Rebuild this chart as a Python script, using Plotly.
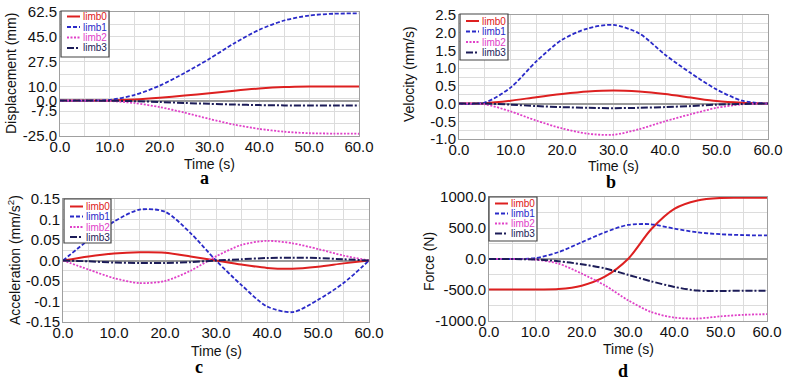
import plotly.graph_objects as go

W, H = 788, 383

# ---------------- data ----------------
time_s = [0, 5, 10, 15, 20, 25, 30, 35, 40, 45, 50, 55, 60]
series_names = ["limb0", "limb1", "limb2", "limb3"]

disp_limb0 = [0, 0, 0.1, 0.8, 2.0, 3.5, 5.2, 7.0, 8.5, 9.5, 9.9, 10.0, 10.0]
disp_limb1 = [0, 0, 0.5, 4.0, 10.5, 19.5, 29.5, 40.5, 50.0, 56.5, 60.0, 61.3, 61.5]
disp_limb2 = [0, 0, -0.3, -1.8, -4.6, -8.5, -13.0, -17.0, -20.0, -22.0, -23.0, -23.3, -23.4]
disp_limb3 = [0, 0, -0.1, -0.4, -1.0, -1.7, -2.3, -2.8, -3.2, -3.4, -3.5, -3.5, -3.5]

vel_limb0 = [0, 0.01, 0.08, 0.18, 0.27, 0.34, 0.37, 0.34, 0.27, 0.17, 0.07, 0.02, 0]
vel_limb1 = [0, 0.03, 0.45, 1.19, 1.80, 2.12, 2.22, 1.98, 1.38, 0.86, 0.40, 0.08, 0]
vel_limb2 = [0, -0.02, -0.22, -0.48, -0.70, -0.85, -0.88, -0.72, -0.50, -0.30, -0.12, -0.02, 0]
vel_limb3 = [0, 0, -0.03, -0.07, -0.10, -0.12, -0.13, -0.12, -0.10, -0.07, -0.03, -0.01, 0]

acc_limb0 = [0, 0.010, 0.017, 0.020, 0.019, 0.010, 0, -0.010, -0.018, -0.020, -0.015, -0.007, 0]
acc_limb1 = [0, 0.050, 0.095, 0.124, 0.119, 0.067, 0, -0.060, -0.112, -0.126, -0.096, -0.055, 0]
acc_limb2 = [0, -0.022, -0.043, -0.055, -0.050, -0.025, 0.010, 0.038, 0.048, 0.042, 0.028, 0.012, 0]
acc_limb3 = [0, -0.002, -0.005, -0.006, -0.006, -0.004, 0, 0.003, 0.006, 0.007, 0.006, 0.003, 0]

force_limb0 = [-490, -490, -490, -485, -430, -285, 0, 480, 810, 945, 985, 988, 988]
force_limb1 = [0, 0, 15, 110, 270, 430, 550, 560, 490, 430, 400, 385, 380]
force_limb2 = [0, 0, -10, -75, -235, -425, -665, -855, -945, -960, -925, -900, -890]
force_limb3 = [0, 0, -8, -35, -85, -150, -255, -360, -450, -510, -515, -512, -510]

x_tickvals = [0, 10, 20, 30, 40, 50, 60]
x_ticktext = ["0.0", "10.0", "20.0", "30.0", "40.0", "50.0", "60.0"]

a_tickvals = [-25, -7.5, 0, 10, 27.5, 45, 62.5]
a_ticktext = ["-25.0", "-7.5", "0.0", "10.0", "27.5", "45.0", "62.5"]
b_tickvals = [-1.0, -0.5, 0, 0.5, 1.0, 1.5, 2.0, 2.5]
b_ticktext = ["-1.0", "-0.5", "0.0", "0.5", "1.0", "1.5", "2.0", "2.5"]
c_tickvals = [-0.15, -0.1, -0.05, 0, 0.05, 0.1, 0.15]
c_ticktext = ["-0.15", "-0.1", "-0.05", "0.0", "0.05", "0.1", "0.15"]
d_tickvals = [-1000, -500, 0, 500, 1000]
d_ticktext = ["-1000.0", "-500.0", "0.0", "500.0", "1000.0"]

# ---------------- style ----------------
colors = ["#dd2020", "#2a2ac8", "#e040c8", "#1c1c58"]
dashes = ["solid", "4px,2px", "2px,1.5px", "7px,2px,2px,2px"]
widths = [2, 1.8, 1.8, 2]
FONT = "Liberation Sans"


def px(x):
    return x / W


def py(y):
    return 1 - y / H


# panel pixel boxes: left, top, right, bottom
panels = [
    dict(box=(60, 12, 359, 136), data=[disp_limb0, disp_limb1, disp_limb2, disp_limb3],
         yr=[-25, 62.5], tv=a_tickvals, tt=a_ticktext,
         minor=[-16.25, 1.25, 18.75, 36.25, 53.75],
         ytitle="Displacement (mm)", ytx=11, yty=74, xty=164,
         label="a", lab=(204.5, 178),
         leg=(61, 11, 109, 57), rows=[16.5, 27, 37.5, 48]),
    dict(box=(459, 15, 768, 139), data=[vel_limb0, vel_limb1, vel_limb2, vel_limb3],
         yr=[-1.0, 2.5], tv=b_tickvals, tt=b_ticktext,
         minor=[-0.75, -0.25, 0.25, 0.75, 1.25, 1.75, 2.25],
         ytitle="Velocity (mm/s)", ytx=409, yty=74, xty=165.5,
         label="b", lab=(611, 182),
         leg=(460, 14, 508, 60), rows=[21, 31.5, 42, 52.5]),
    dict(box=(63, 199, 369, 322), data=[acc_limb0, acc_limb1, acc_limb2, acc_limb3],
         yr=[-0.15, 0.15], tv=c_tickvals, tt=c_ticktext,
         minor=[-0.125, -0.075, -0.025, 0.025, 0.075, 0.125],
         ytitle="Acceleration (mm/s<sup>2</sup>)", ytx=13.5, yty=260.5, xty=351,
         label="c", lab=(199, 367),
         leg=(64, 199, 111, 243), rows=[206.5, 216.5, 227, 237]),
    dict(box=(489, 197, 767, 321), data=[force_limb0, force_limb1, force_limb2, force_limb3],
         yr=[-1000, 1000], tv=d_tickvals, tt=d_ticktext,
         minor=[-750, -250, 250, 750],
         ytitle="Force (N)", ytx=429, yty=262, xty=349,
         label="d", lab=(623, 371),
         leg=(489, 197, 537, 241), rows=[203.5, 213.5, 223.5, 233.5]),
]

fig = go.Figure()
shapes = []
annotations = []

for i, p in enumerate(panels):
    n = "" if i == 0 else str(i + 1)
    l, t, r, b = p["box"]
    for k in range(4):
        fig.add_trace(go.Scatter(
            x=time_s, y=p["data"][k], mode="lines", name=series_names[k],
            line=dict(color=colors[k], dash=dashes[k], width=widths[k],
                      shape="spline", smoothing=0.8),
            xaxis="x" + n, yaxis="y" + n, showlegend=False))

    xa = dict(domain=[px(l), px(r)], anchor="y" + n, range=[0, 60],
              automargin=False,
              tickvals=x_tickvals, ticktext=x_ticktext,
              showgrid=True, gridcolor="#dcdcdc", gridwidth=1,
              minor=dict(tickvals=[5, 15, 25, 35, 45, 55], showgrid=True,
                         gridcolor="#dcdcdc", gridwidth=1),
              showline=True, linecolor="#a0a0a0", linewidth=1, mirror=True,
              zeroline=False, ticks="", ticklabelstandoff=-3,
              tickfont=dict(family=FONT, size=15, color="#111111"))
    ya = dict(domain=[py(b), py(t)], anchor="x" + n, range=p["yr"],
              automargin=False,
              tickvals=p["tv"], ticktext=p["tt"],
              showgrid=True, gridcolor="#dcdcdc", gridwidth=1,
              minor=dict(tickvals=p["minor"], showgrid=True,
                         gridcolor="#dcdcdc", gridwidth=1),
              showline=True, linecolor="#a0a0a0", linewidth=1, mirror=True,
              zeroline=True, zerolinecolor="#9a9a9a", zerolinewidth=1.5,
              ticks="", ticklabelstandoff=-1,
              tickfont=dict(family=FONT, size=15, color="#111111"))
    fig.update_layout(**{"xaxis" + n: xa, "yaxis" + n: ya})

    # axis titles
    annotations.append(dict(text="Time (s)", x=px((l + r) / 2), y=py(p["xty"]),
                            xref="paper", yref="paper", showarrow=False,
                            xanchor="center", yanchor="middle",
                            font=dict(family=FONT, size=14, color="#111111")))
    annotations.append(dict(text=p["ytitle"], x=px(p["ytx"]), y=py(p["yty"]),
                            xref="paper", yref="paper", showarrow=False,
                            textangle=-90, xanchor="center", yanchor="middle",
                            font=dict(family=FONT, size=14, color="#111111")))
    annotations.append(dict(text="<b>" + p["label"] + "</b>", x=px(p["lab"][0]),
                            y=py(p["lab"][1]), xref="paper", yref="paper",
                            showarrow=False, xanchor="center", yanchor="middle",
                            font=dict(family="Liberation Serif", size=18, color="#000000")))

    # legend box (manual)
    ll, lt, lr, lb = p["leg"]
    shapes.append(dict(type="rect", xref="paper", yref="paper",
                       x0=px(ll), x1=px(lr), y0=py(lb), y1=py(lt),
                       line=dict(color="#444444", width=1.2), fillcolor="white",
                       layer="above"))
    for k in range(4):
        ry = p["rows"][k]
        shapes.append(dict(type="line", xref="paper", yref="paper",
                           x0=px(ll + 6), x1=px(ll + 19), y0=py(ry), y1=py(ry),
                           line=dict(color=colors[k], dash=dashes[k], width=widths[k]),
                           layer="above"))
        annotations.append(dict(text=series_names[k], x=px(ll + 20), y=py(ry),
                                xref="paper", yref="paper", showarrow=False,
                                xanchor="left", yanchor="middle",
                                font=dict(family=FONT, size=10, color=colors[k])))

fig.update_layout(width=W, height=H,
                  margin=dict(l=0, r=0, t=0, b=0, pad=0, autoexpand=False),
                  paper_bgcolor="white", plot_bgcolor="white",
                  shapes=shapes, annotations=annotations, showlegend=False)

fig.write_html("out.html", config={"displayModeBar": False},
               post_script="document.body.style.margin='0px';document.body.style.overflow='hidden';")
